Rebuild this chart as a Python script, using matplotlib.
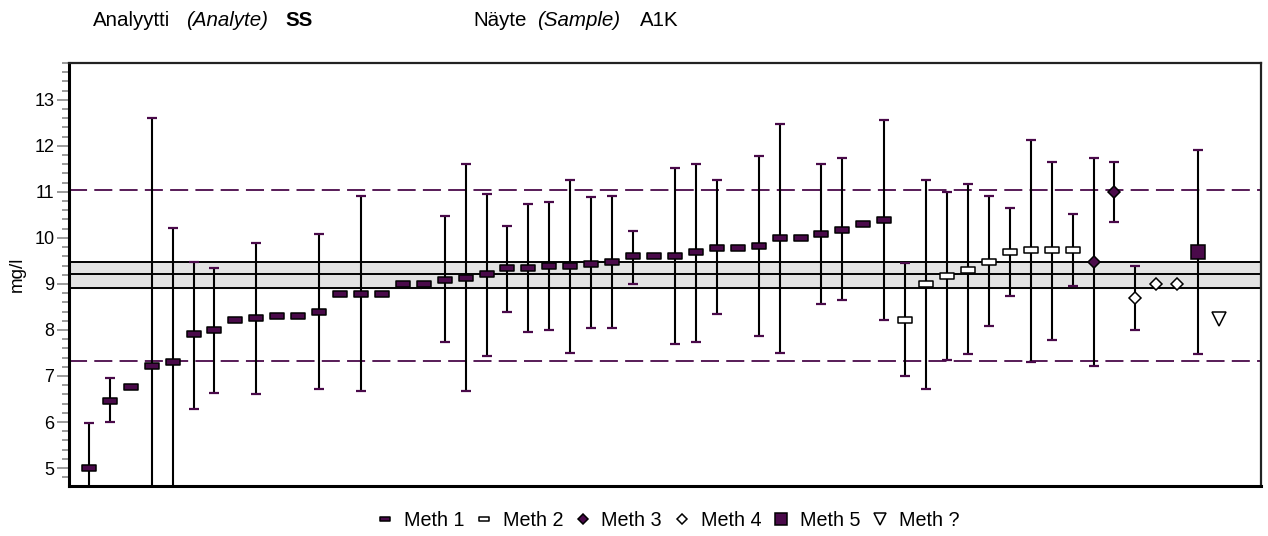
import numpy as np
import matplotlib
matplotlib.use("Agg")
import matplotlib.pyplot as plt
from matplotlib.lines import Line2D
from matplotlib.path import Path
from matplotlib.ticker import MultipleLocator

plt.rcParams['font.family'] = ['Liberation Sans', 'DejaVu Sans']

# Results per method (value, lower and upper limit of uncertainty; nan = no bar)
nan = np.nan
m1_val = [5.0, 6.46, 6.77, 7.22, 7.30, 7.91, 8.00, 8.22, 8.26, 8.30, 8.30, 8.38, 8.78,
          8.78, 8.78, 8.99, 8.99, 9.09, 9.12, 9.22, 9.34, 9.34, 9.39, 9.39, 9.43, 9.48,
          9.61, 9.61, 9.61, 9.70, 9.78, 9.78, 9.83, 10.0, 10.0, 10.09, 10.17, 10.30, 10.39]
m1_lo = [4.0, 5.99, nan, 4.0, 4.0, 6.29, 6.64, nan, 6.60, nan, nan, 6.72, nan,
         6.68, nan, nan, nan, 7.73, 6.68, 7.43, 8.38, 7.95, 8.00, 7.51, 8.04, 8.04,
         8.99, nan, 7.69, 7.73, 8.34, nan, 7.87, 7.51, nan, 8.56, 8.65, nan, 8.21]
m1_hi = [5.97, 6.95, nan, 12.60, 10.21, 9.48, 9.34, nan, 9.90, nan, nan, 10.09, nan,
         10.90, nan, nan, nan, 10.48, 11.60, 10.96, 10.26, 10.73, 10.78, 11.26, 10.88, 10.91,
         10.16, nan, 11.52, 11.61, 11.26, nan, 11.77, 12.48, nan, 11.60, 11.73, nan, 12.57]

m2_val = [8.21, 8.99, 9.17, 9.30, 9.48, 9.70, 9.74, 9.74, 9.74]
m2_lo = [6.99, 6.72, 7.34, 7.47, 8.08, 8.73, 7.30, 7.78, 8.95]
m2_hi = [9.46, 11.25, 10.99, 11.17, 10.91, 10.64, 12.13, 11.65, 10.52]

m3_val = [9.48, 11.0]
m3_lo = [7.21, 10.35]
m3_hi = [11.74, 11.65]

m4_val = [8.69, 8.99, 8.99]
m4_lo = [7.99, nan, nan]
m4_hi = [9.38, nan, nan]

m5_val = [9.70]
m5_lo = [7.47]
m5_hi = [11.91]

mq_val = [8.23]
mq_lo = [nan]
mq_hi = [nan]

assigned = 9.22
band = (8.91, 9.48)
limits = (7.33, 11.04)

purple = '#4a0a4a'
rect = Path([(-1, -0.4), (1, -0.4), (1, 0.4), (-1, 0.4), (-1, -0.4)],
            [Path.MOVETO, Path.LINETO, Path.LINETO, Path.LINETO, Path.CLOSEPOLY])

series = [
    ("Meth 1", m1_val, m1_lo, m1_hi, dict(marker=rect, ms=9.5, mfc=purple, mec='black', mew=1.1)),
    ("Meth 2", m2_val, m2_lo, m2_hi, dict(marker=rect, ms=9.5, mfc='white', mec='black', mew=1.1)),
    ("Meth 3", m3_val, m3_lo, m3_hi, dict(marker='D', ms=6.6, mfc=purple, mec='black', mew=1.1)),
    ("Meth 4", m4_val, m4_lo, m4_hi, dict(marker='D', ms=6.6, mfc='white', mec='black', mew=1.1)),
    ("Meth 5", m5_val, m5_lo, m5_hi, dict(marker='s', ms=9.4, mfc=purple, mec='black', mew=1.1)),
    ("Meth ?", mq_val, mq_lo, mq_hi, dict(marker='v', ms=9.4, mfc='white', mec='black', mew=1.1)),
]
legend_ms = [7.5, 7.5, 5.2, 5.2, 9.0, 8.5]

fig = plt.figure(figsize=(12.68, 5.36), dpi=100)
ax = fig.add_axes([69 / 1268, 1 - 486 / 536, (1261 - 69) / 1268, (486 - 63) / 536])

# assigned value with its uncertainty band and the tolerance limits
ax.axhspan(band[0], band[1], color='#e2e2e2', zorder=1)
for y in (band[0], assigned, band[1]):
    ax.axhline(y, color='black', lw=1.4, zorder=2)
for y in limits:
    ax.axhline(y, color=purple, lw=1.3, linestyle=(0, (10, 4)), zorder=2)

handles = []
start = 0
for (name, val, lo, hi, style), lms in zip(series, legend_ms):
    x = np.arange(start, start + len(val))
    val = np.array(val)
    lo = np.array(lo)
    hi = np.array(hi)
    has = ~np.isnan(lo)
    ax.vlines(x[has], lo[has], hi[has], color='black', lw=1.5, zorder=3)
    ax.plot(x[has], lo[has], linestyle='none', marker='_', ms=6.5, mew=1.6, color=purple, zorder=3)
    ax.plot(x[has], hi[has], linestyle='none', marker='_', ms=6.5, mew=1.6, color=purple, zorder=3)
    ax.plot(x, val, linestyle='none', zorder=4, **style)
    hstyle = dict(style, ms=lms)
    handles.append(Line2D([], [], linestyle='none', **hstyle))
    start += len(val)

ax.set_xlim(-0.95, 56.0)
ax.set_ylim(4.61, 13.8)
ax.set_xticks([])
ax.yaxis.set_major_locator(MultipleLocator(1))
ax.yaxis.set_minor_locator(MultipleLocator(0.2))
ax.tick_params(axis='y', which='major', length=8.5, width=1.1, color='#808080',
               labelsize=13, pad=2)
ax.tick_params(axis='y', which='minor', length=5, width=1.1, color='#808080')
ax.set_ylabel('mg/l', fontsize=13.5, labelpad=6)
for side in ('left', 'bottom'):
    ax.spines[side].set_linewidth(2.2)
for side in ('top', 'right'):
    ax.spines[side].set_linewidth(1.6)
    ax.spines[side].set_color('#222222')

# header
ty = 1 - 26 / 536
hs = 14.8
fig.text(93 / 1268, ty, 'Analyytti', fontsize=hs, va='baseline')
fig.text(186 / 1268, ty, '(Analyte)', fontsize=hs, style='italic', va='baseline')
fig.text(285 / 1268, ty, 'SS', fontsize=hs, weight='bold', va='baseline')
fig.text(473 / 1268, ty, 'Näyte', fontsize=hs, va='baseline')
fig.text(537 / 1268, ty, '(Sample)', fontsize=hs, style='italic', va='baseline')
fig.text(640 / 1268, ty, 'A1K', fontsize=hs, va='baseline')

fig.legend(handles, [s[0] for s in series], loc='center',
           bbox_to_anchor=(669 / 1268, 1 - 520 / 536), ncol=6, frameon=False,
           fontsize=14.2, handlelength=0.6, handletextpad=0.65, columnspacing=0.7,
           borderpad=0)

fig.savefig('out.png', dpi=100)
